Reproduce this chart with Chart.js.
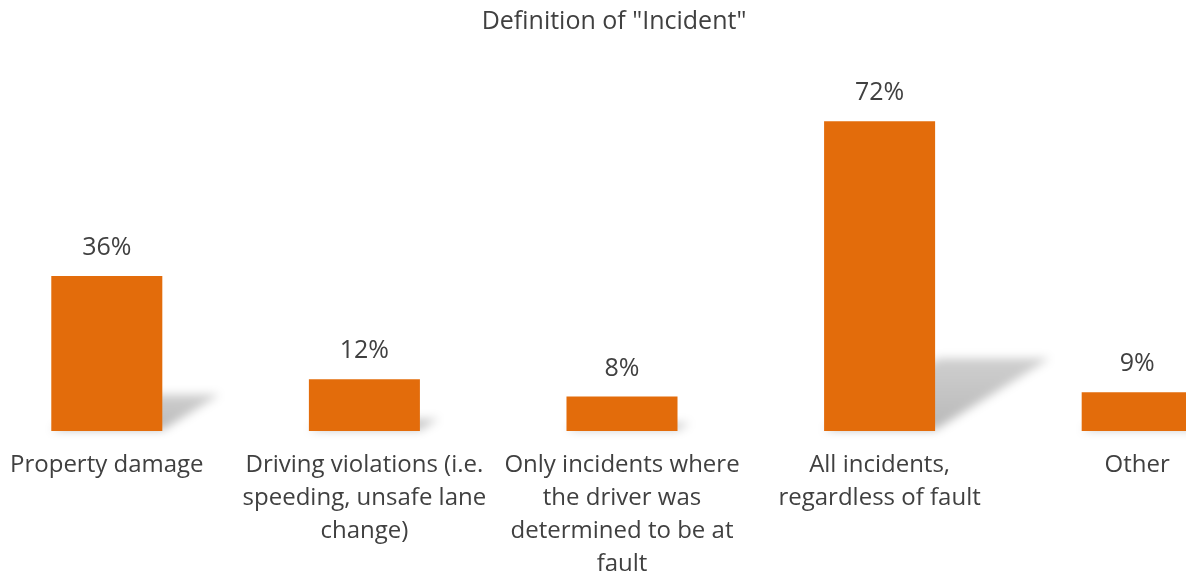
<!DOCTYPE html>
<html>
<head>
<meta charset="utf-8">
<script src="https://cdn.jsdelivr.net/npm/chart.js@4/dist/chart.umd.min.js"></script>
<style>
  html, body { margin: 0; padding: 0; background: #fff; overflow: hidden; width: 1186px; height: 577px; }
  #wrap { position: absolute; left: -22px; top: 0; width: 1288px; height: 599px; }
</style>
</head>
<body>
<div id="wrap"><canvas id="chart"></canvas></div>
<script>
const categories = [
  ["Property damage"],
  ["Driving violations (i.e.", "speeding, unsafe lane", "change)"],
  ["Only incidents where", "the driver was", "determined to be at", "fault"],
  ["All incidents,", "regardless of fault"],
  ["Other"]
];
const values = [36, 12, 8, 72, 9];
const valueLabels = ["36%", "12%", "8%", "72%", "9%"];
const chartTitle = 'Definition of "Incident"';

const textColor = "#404040";
const fontFamily = "'Open Sans', 'Noto Sans', sans-serif";

// Excel-like perspective shadow behind each bar
const barShadows = {
  id: "barShadows",
  beforeDatasetsDraw(chart) {
    const ctx = chart.ctx;
    const meta = chart.getDatasetMeta(0);
    ctx.save();
    ctx.filter = "blur(5px)";
    meta.data.forEach((bar) => {
      const h = bar.base - bar.y;
      const dx = h * 0.37;
      const sh = h * 0.235;
      const left = bar.x - bar.width / 2;
      const right = bar.x + bar.width / 2;
      const grad = ctx.createLinearGradient(0, bar.base, 0, bar.base - sh);
      grad.addColorStop(0, "rgba(0,0,0,0.28)");
      grad.addColorStop(1, "rgba(0,0,0,0.19)");
      ctx.fillStyle = grad;
      ctx.beginPath();
      ctx.moveTo(left, bar.base - 1);
      ctx.lineTo(right, bar.base - 1);
      ctx.lineTo(right + dx, bar.base - sh);
      ctx.lineTo(left + dx, bar.base - sh);
      ctx.closePath();
      ctx.fill();
    });
    ctx.restore();
  }
};

// value labels above the bars + the title (sits a little left of centre)
const textLayer = {
  id: "textLayer",
  afterDatasetsDraw(chart) {
    const ctx = chart.ctx;
    const meta = chart.getDatasetMeta(0);
    const area = chart.chartArea;
    ctx.save();
    ctx.fillStyle = textColor;
    ctx.textAlign = "center";
    ctx.font = "25px " + fontFamily;
    ctx.textBaseline = "alphabetic";
    meta.data.forEach((bar, i) => {
      ctx.fillText(valueLabels[i], bar.x, bar.y - 21);
    });
    ctx.font = "25px " + fontFamily;
    ctx.textBaseline = "middle";
    ctx.fillText(chartTitle, (area.left + area.right) / 2 - 8, 22);
    ctx.restore();
  }
};

new Chart(document.getElementById("chart"), {
  type: "bar",
  data: {
    labels: categories,
    datasets: [{
      data: values,
      backgroundColor: "#E36C0B",
      borderWidth: 0,
      barPercentage: 0.431,
      categoryPercentage: 1
    }]
  },
  options: {
    responsive: true,
    maintainAspectRatio: false,
    animation: false,
    layout: { padding: { left: 0, right: 0, top: 43.75, bottom: 0 } },
    plugins: {
      legend: { display: false },
      tooltip: { enabled: false },
      title: { display: false }
    },
    scales: {
      x: {
        grid: { display: false, drawTicks: false },
        border: { display: false },
        ticks: {
          color: textColor,
          font: { family: fontFamily, size: 24, lineHeight: 1.375 },
          padding: 18,
          maxRotation: 0,
          minRotation: 0,
          autoSkip: false
        }
      },
      y: {
        display: false,
        min: 0,
        max: 90
      }
    }
  },
  plugins: [barShadows, textLayer]
});
</script>
</body>
</html>
